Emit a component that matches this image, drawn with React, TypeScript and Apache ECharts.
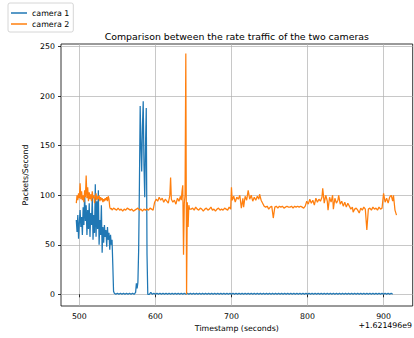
import React, { useEffect, useRef } from "react";
import * as echarts from "echarts";

// Timestamps are seconds after 1.621496e9
const xTicks = [500, 600, 700, 800, 900];
const yTicks = [0, 50, 100, 150, 200, 250];

// camera 1 : noisy start (1 s from 496)
const cam1Noisy = [75, 63, 80, 56, 72, 85, 68, 78, 60, 88, 70, 102, 74, 90, 60, 85, 66, 92, 58, 82, 70, 98, 55, 80, 62, 111, 58, 94, 66, 105, 50, 75, 60, 90, 42, 68, 52, 70, 58, 65, 48, 68, 55, 62, 45, 60, 50, 55, 30, 3, 1];
// camera 1 : idle (2 s from 548)
const cam1Idle1 = [0, 1, 0, 1, 0, 1, 0, 1, 0, 1, 0, 1, 0];
// camera 1 : burst (1 s from 574)
const cam1Burst = [2, 11, 6, 12, 45, 110, 190, 150, 124, 170, 195, 130, 98, 150, 188, 40, 0];
// camera 1 : idle (2 s from 592)
const cam1Idle2 = [
  0, 2, 0, 1, 0, 1, 0, 1, 0, 1,
  0, 1, 0, 1, 0, 1, 0, 1, 0, 1,
  0, 1, 0, 1, 0, 1, 0, 1, 0, 1,
  0, 1, 0, 1, 0, 1, 0, 1, 0, 1,
  0, 1, 0, 1, 0, 1, 0, 1, 0, 1,
  0, 1, 0, 1, 0, 1, 0, 1, 0, 1,
  0, 1, 0, 1, 0, 1, 0, 1, 0, 1,
  0, 1, 0, 1, 0, 1, 0, 1, 0, 1,
  0, 1, 0, 1, 0, 1, 0, 1, 0, 1,
  0, 1, 0, 1, 0, 1, 0, 1, 0, 1,
  0, 1, 0, 1, 0, 1, 0, 1, 0, 1,
  0, 1, 0, 1, 0, 1, 0, 1, 0, 1,
  0, 1, 0, 1, 0, 1, 0, 1, 0, 1,
  0, 1, 0, 1, 0, 1, 0, 1, 0, 1,
  0, 1, 0, 1, 0, 1, 0, 1, 0, 1,
  0, 1, 0, 1, 0, 1, 0, 1, 0, 1,
  0,
];

// camera 2 : start (1 s from 496)
const cam2Start = [92, 100, 95, 102, 97, 112, 96, 104, 95, 100, 93, 105, 98, 120, 97, 108, 94, 103, 96, 101, 94, 104, 97, 100, 92, 98, 102, 95, 99, 96, 100, 94, 98, 95, 97, 93, 96, 94, 97, 95, 98, 94, 99, 96, 88, 86, 87, 85, 86, 87];
// camera 2 : flat (2 s from 547)
const cam2Flat1 = [86, 85, 87, 85, 86, 84, 86, 85, 87, 86, 85, 86, 84, 85, 86, 87, 85, 86, 84, 86, 85, 86, 85, 87, 86, 85];
const cam2MidT = [599, 601, 603, 605, 607, 609, 611, 613, 615, 617, 619, 620, 621, 623, 625, 627, 629, 631, 633, 634, 635, 636, 637, 638, 639, 640, 641, 642, 643, 644, 645];
const cam2MidV = [93, 96, 94, 98, 95, 97, 93, 96, 94, 92, 100, 118, 96, 93, 95, 91, 97, 94, 99, 95, 104, 110, 40, 92, 100, 243, 0, 93, 68, 90, 86];
// camera 2 : flat (2 s from 647)
const cam2Flat2 = [86, 87, 85, 88, 86, 85, 87, 86, 84, 86, 87, 85, 86, 88, 85, 86, 84, 86, 87, 85, 86, 85, 87, 86, 85, 88, 86];
const cam2LateT = [700, 701, 703, 705, 707, 709, 711, 713, 715, 716, 718, 720, 722, 724, 726, 728, 730, 732, 734, 736, 737, 739, 741, 743];
const cam2LateV = [108, 95, 99, 93, 98, 96, 100, 87, 97, 88, 99, 95, 105, 96, 100, 94, 98, 95, 99, 96, 101, 95, 92, 89];
// camera 2 : flat (2 s from 745)
const cam2Flat3 = [88, 89, 86, 88, 89, 77, 88, 89, 87, 89, 88, 89, 87, 88, 89, 88, 88, 89, 87, 89, 88, 89, 88, 89, 88, 87, 89];
const cam2EndT = [799, 801, 803, 805, 807, 809, 811, 813, 815, 817, 819, 820, 822, 824, 826, 827, 829, 831, 833, 834, 836, 838, 840, 841, 843, 845, 847, 849, 851, 853, 855, 857, 859, 860, 862, 864, 866, 868, 870, 872, 874, 876, 878, 880, 882, 884, 886, 888, 890, 892, 894, 896, 898, 900, 902, 904, 906, 908, 910, 912, 913, 915, 917];
const cam2EndV = [94, 91, 96, 92, 95, 90, 97, 93, 96, 94, 98, 107, 92, 100, 94, 85, 98, 93, 100, 86, 97, 92, 95, 100, 91, 94, 89, 93, 88, 92, 89, 86, 88, 83, 86, 87, 85, 82, 87, 85, 88, 86, 65, 86, 87, 85, 88, 86, 87, 85, 88, 86, 87, 102, 93, 97, 92, 98, 100, 94, 100, 85, 80];

const seg = (start: number, step: number, vals: number[]) => vals.map((v, i) => [start + i * step, v]);
const pairs = (ts: number[], vs: number[]) => ts.map((t, i) => [t, vs[i]]);

const cam1Data = [
  ...seg(496, 1, cam1Noisy),
  ...seg(548, 2, cam1Idle1),
  ...seg(574, 1, cam1Burst),
  ...seg(592, 2, cam1Idle2),
];
const cam2Data = [
  ...seg(496, 1, cam2Start),
  ...seg(547, 2, cam2Flat1),
  ...pairs(cam2MidT, cam2MidV),
  ...seg(647, 2, cam2Flat2),
  ...pairs(cam2LateT, cam2LateV),
  ...seg(745, 2, cam2Flat3),
  ...pairs(cam2EndT, cam2EndV),
];

const FONT = "DejaVu Sans";

export default function App() {
  const ref = useRef<HTMLDivElement>(null);
  useEffect(() => {
    document.body.style.margin = "0";
    const chart = echarts.init(ref.current!, null, { renderer: "svg" });
    chart.setOption({
      animation: false,
      backgroundColor: "#fff",
      grid: {
        left: 61,
        top: 44,
        width: 351.7,
        height: 262,
        show: true,
        borderColor: "#000",
        borderWidth: 0.8,
        backgroundColor: "transparent",
      },
      legend: {
        left: 8,
        top: 3,
        orient: "vertical",
        padding: [5, 4, 3, 3],
        itemWidth: 16,
        itemHeight: 1.5,
        itemGap: 1,
        icon: "rect",
        data: ["camera 1", "camera 2"],
        textStyle: { fontSize: 7.9, fontFamily: FONT, color: "#000", lineHeight: 10 },
        backgroundColor: "rgba(255,255,255,0.8)",
        borderColor: "#cccccc",
        borderWidth: 0.8,
        borderRadius: 2,
      },
      xAxis: {
        type: "value",
        min: 475.9,
        max: 938.3,
        axisLine: { show: false },
        axisTick: { show: true, length: 3, customValues: xTicks, lineStyle: { color: "#000", width: 0.8 } },
        axisLabel: { customValues: xTicks, fontSize: 7.8, fontFamily: FONT, color: "#000", margin: 6 },
        splitLine: { show: true, lineStyle: { color: "#b0b0b0", width: 0.7 } },
        name: "Timestamp (seconds)",
        nameLocation: "middle",
        nameGap: 15,
        nameTextStyle: { fontSize: 7.8, fontFamily: FONT, color: "#000" },
      },
      yAxis: {
        type: "value",
        min: -11.8,
        max: 252.7,
        axisLine: { show: false },
        axisTick: { show: true, length: 3, customValues: yTicks, lineStyle: { color: "#000", width: 0.8 } },
        axisLabel: { customValues: yTicks, fontSize: 7.8, fontFamily: FONT, color: "#000", margin: 6 },
        splitLine: { show: true, lineStyle: { color: "#b0b0b0", width: 0.7 } },
        name: "Packets/Second",
        nameLocation: "middle",
        nameGap: 23,
        nameTextStyle: { fontSize: 7.8, fontFamily: FONT, color: "#000" },
      },
      graphic: [
        {
          type: "text",
          x: 236.8,
          y: 36,
          style: {
            text: "Comparison between the rate traffic of the two cameras",
            textAlign: "center",
            textVerticalAlign: "middle",
            fontSize: 9.4,
            fontFamily: FONT,
            fill: "#000",
          },
        },
        {
          type: "text",
          x: 412,
          y: 325.7,
          style: {
            text: "+1.621496e9",
            textAlign: "right",
            textVerticalAlign: "middle",
            fontSize: 7.8,
            fontFamily: FONT,
            fill: "#000",
          },
        },
      ],
      series: [
        {
          name: "camera 1",
          type: "line",
          data: cam1Data,
          showSymbol: false,
          color: "#1f77b4",
          lineStyle: { width: 1.25, color: "#1f77b4" },
        },
        {
          name: "camera 2",
          type: "line",
          data: cam2Data,
          showSymbol: false,
          color: "#ff7f0e",
          lineStyle: { width: 1.25, color: "#ff7f0e" },
        },
      ],
    });
    return () => chart.dispose();
  }, []);
  return <div ref={ref} style={{ width: 414, height: 338, position: "absolute", left: 0, top: 0 }} />;
}
